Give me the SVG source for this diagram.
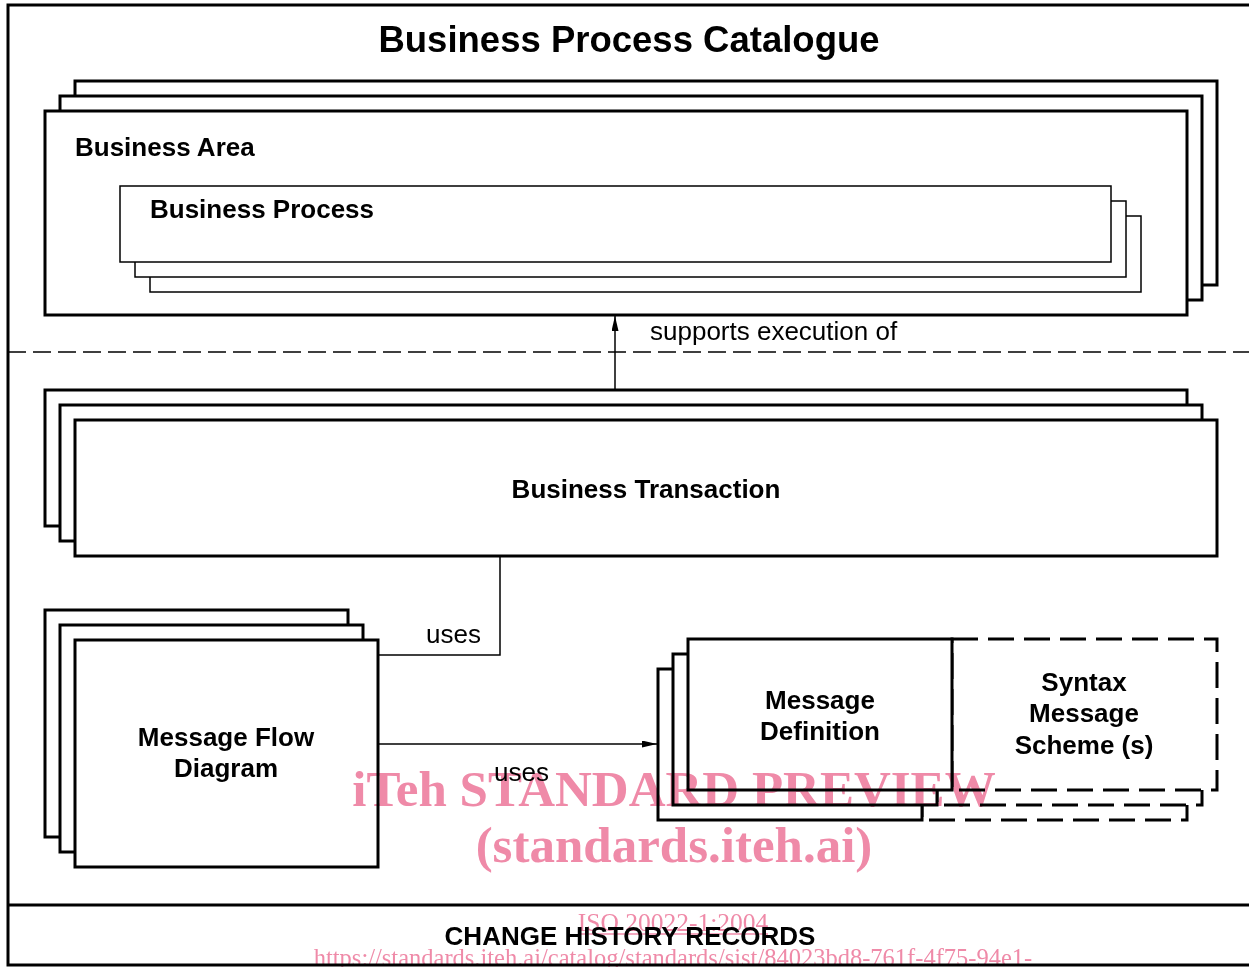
<svg xmlns="http://www.w3.org/2000/svg" width="1249" height="967" viewBox="0 0 1249 967">
<style>
.thick{fill:#fff;stroke:#000;stroke-width:3;stroke-linejoin:miter}
.thin{fill:#fff;stroke:#000;stroke-width:1.5}
.dash{fill:#fff;stroke:#000;stroke-width:3;stroke-dasharray:26 10}
.conn{fill:none;stroke:#000;stroke-width:1.5}
.lbl{font-family:"Liberation Sans",Arial,sans-serif;font-weight:bold;font-size:26px;fill:#000}
.reg{font-family:"Liberation Sans",Arial,sans-serif;font-size:26px;fill:#000}
.wm{font-family:"Liberation Serif","Times New Roman",serif;fill:#ef8aa8}
</style>
<defs>
<marker id="arr" viewBox="0 0 15 7" refX="15" refY="3.5" markerWidth="15" markerHeight="7" markerUnits="userSpaceOnUse" orient="auto" preserveAspectRatio="none">
<path d="M0,0 L15,3.5 L0,7 z" fill="#000"/>
</marker>
</defs>
<rect width="1249" height="967" fill="#fff"/>
<g id="catalogue">
<rect x="8" y="5" width="1246" height="960" fill="none" stroke="#000" stroke-width="3"/>
<line x1="8" y1="905" x2="1254" y2="905" stroke="#000" stroke-width="3"/>
<line x1="8" y1="352" x2="1249" y2="352" stroke="#000" stroke-width="1.5" stroke-dasharray="18 7"/>
<text x="629" y="52" text-anchor="middle" class="lbl" style="font-size:36.5px">Business Process Catalogue</text>
<text x="630" y="945" text-anchor="middle" class="lbl">CHANGE HISTORY RECORDS</text>
</g>
<g id="business-area">
<rect x="75" y="81" width="1142" height="204" class="thick"/>
<rect x="60" y="96" width="1142" height="204" class="thick"/>
<rect x="45" y="111" width="1142" height="204" class="thick"/>
<text x="75" y="156" class="lbl">Business Area</text>
</g>
<g id="business-process">
<rect x="150" y="216" width="991" height="76" class="thin"/>
<rect x="135" y="201" width="991" height="76" class="thin"/>
<rect x="120" y="186" width="991" height="76" class="thin"/>
<text x="150" y="218" class="lbl">Business Process</text>
</g>
<g id="business-transaction">
<rect x="45" y="390" width="1142" height="136" class="thick"/>
<rect x="60" y="405" width="1142" height="136" class="thick"/>
<rect x="75" y="420" width="1142" height="136" class="thick"/>
<text x="646" y="498" text-anchor="middle" class="lbl">Business Transaction</text>
</g>
<g id="message-flow-diagram">
<rect x="45" y="610" width="303" height="227" class="thick"/>
<rect x="60" y="625" width="303" height="227" class="thick"/>
<rect x="75" y="640" width="303" height="227" class="thick"/>
<text x="226" y="746" text-anchor="middle" class="lbl">Message Flow</text>
<text x="226" y="777" text-anchor="middle" class="lbl">Diagram</text>
</g>
<g id="message-definition">
<rect x="922" y="669" width="265" height="151" class="dash"/>
<rect x="658" y="669" width="264" height="151" class="thick"/>
<rect x="937" y="654" width="265" height="151" class="dash"/>
<rect x="673" y="654" width="264" height="151" class="thick"/>
<rect x="952" y="639" width="265" height="151" class="dash"/>
<rect x="688" y="639" width="264" height="151" class="thick"/>
<text x="820" y="709" text-anchor="middle" class="lbl">Message</text>
<text x="820" y="740" text-anchor="middle" class="lbl">Definition</text>
<text x="1084" y="691" text-anchor="middle" class="lbl">Syntax</text>
<text x="1084" y="722" text-anchor="middle" class="lbl">Message</text>
<text x="1084" y="754" text-anchor="middle" class="lbl">Scheme (s)</text>
</g>
<g id="connectors">
<line x1="615" y1="390" x2="615" y2="316" class="conn" marker-end="url(#arr)"/>
<text x="650" y="340" class="reg">supports execution of</text>
<polyline points="500,556 500,655 378,655" class="conn"/>
<text x="426" y="643" class="reg">uses</text>
<line x1="378" y1="744" x2="657" y2="744" class="conn" marker-end="url(#arr)"/>
<text x="494" y="781" class="reg">uses</text>
</g>
<g id="watermark" style="mix-blend-mode:multiply">
<text x="674" y="806" text-anchor="middle" class="wm" style="font-size:51px;font-weight:bold">iTeh STANDARD PREVIEW</text>
<text x="674" y="862" text-anchor="middle" class="wm" style="font-size:51px;font-weight:bold">(standards.iteh.ai)</text>
<text x="673" y="931" text-anchor="middle" class="wm" style="font-size:25.5px">ISO 20022-1:2004</text>
<line x1="578" y1="934" x2="768" y2="934" stroke="#ef8aa8" stroke-width="1.5"/>
<text x="673" y="966" text-anchor="middle" class="wm" style="font-size:24.5px">https://standards.iteh.ai/catalog/standards/sist/84023bd8-761f-4f75-94e1-</text>
</g>
</svg>
